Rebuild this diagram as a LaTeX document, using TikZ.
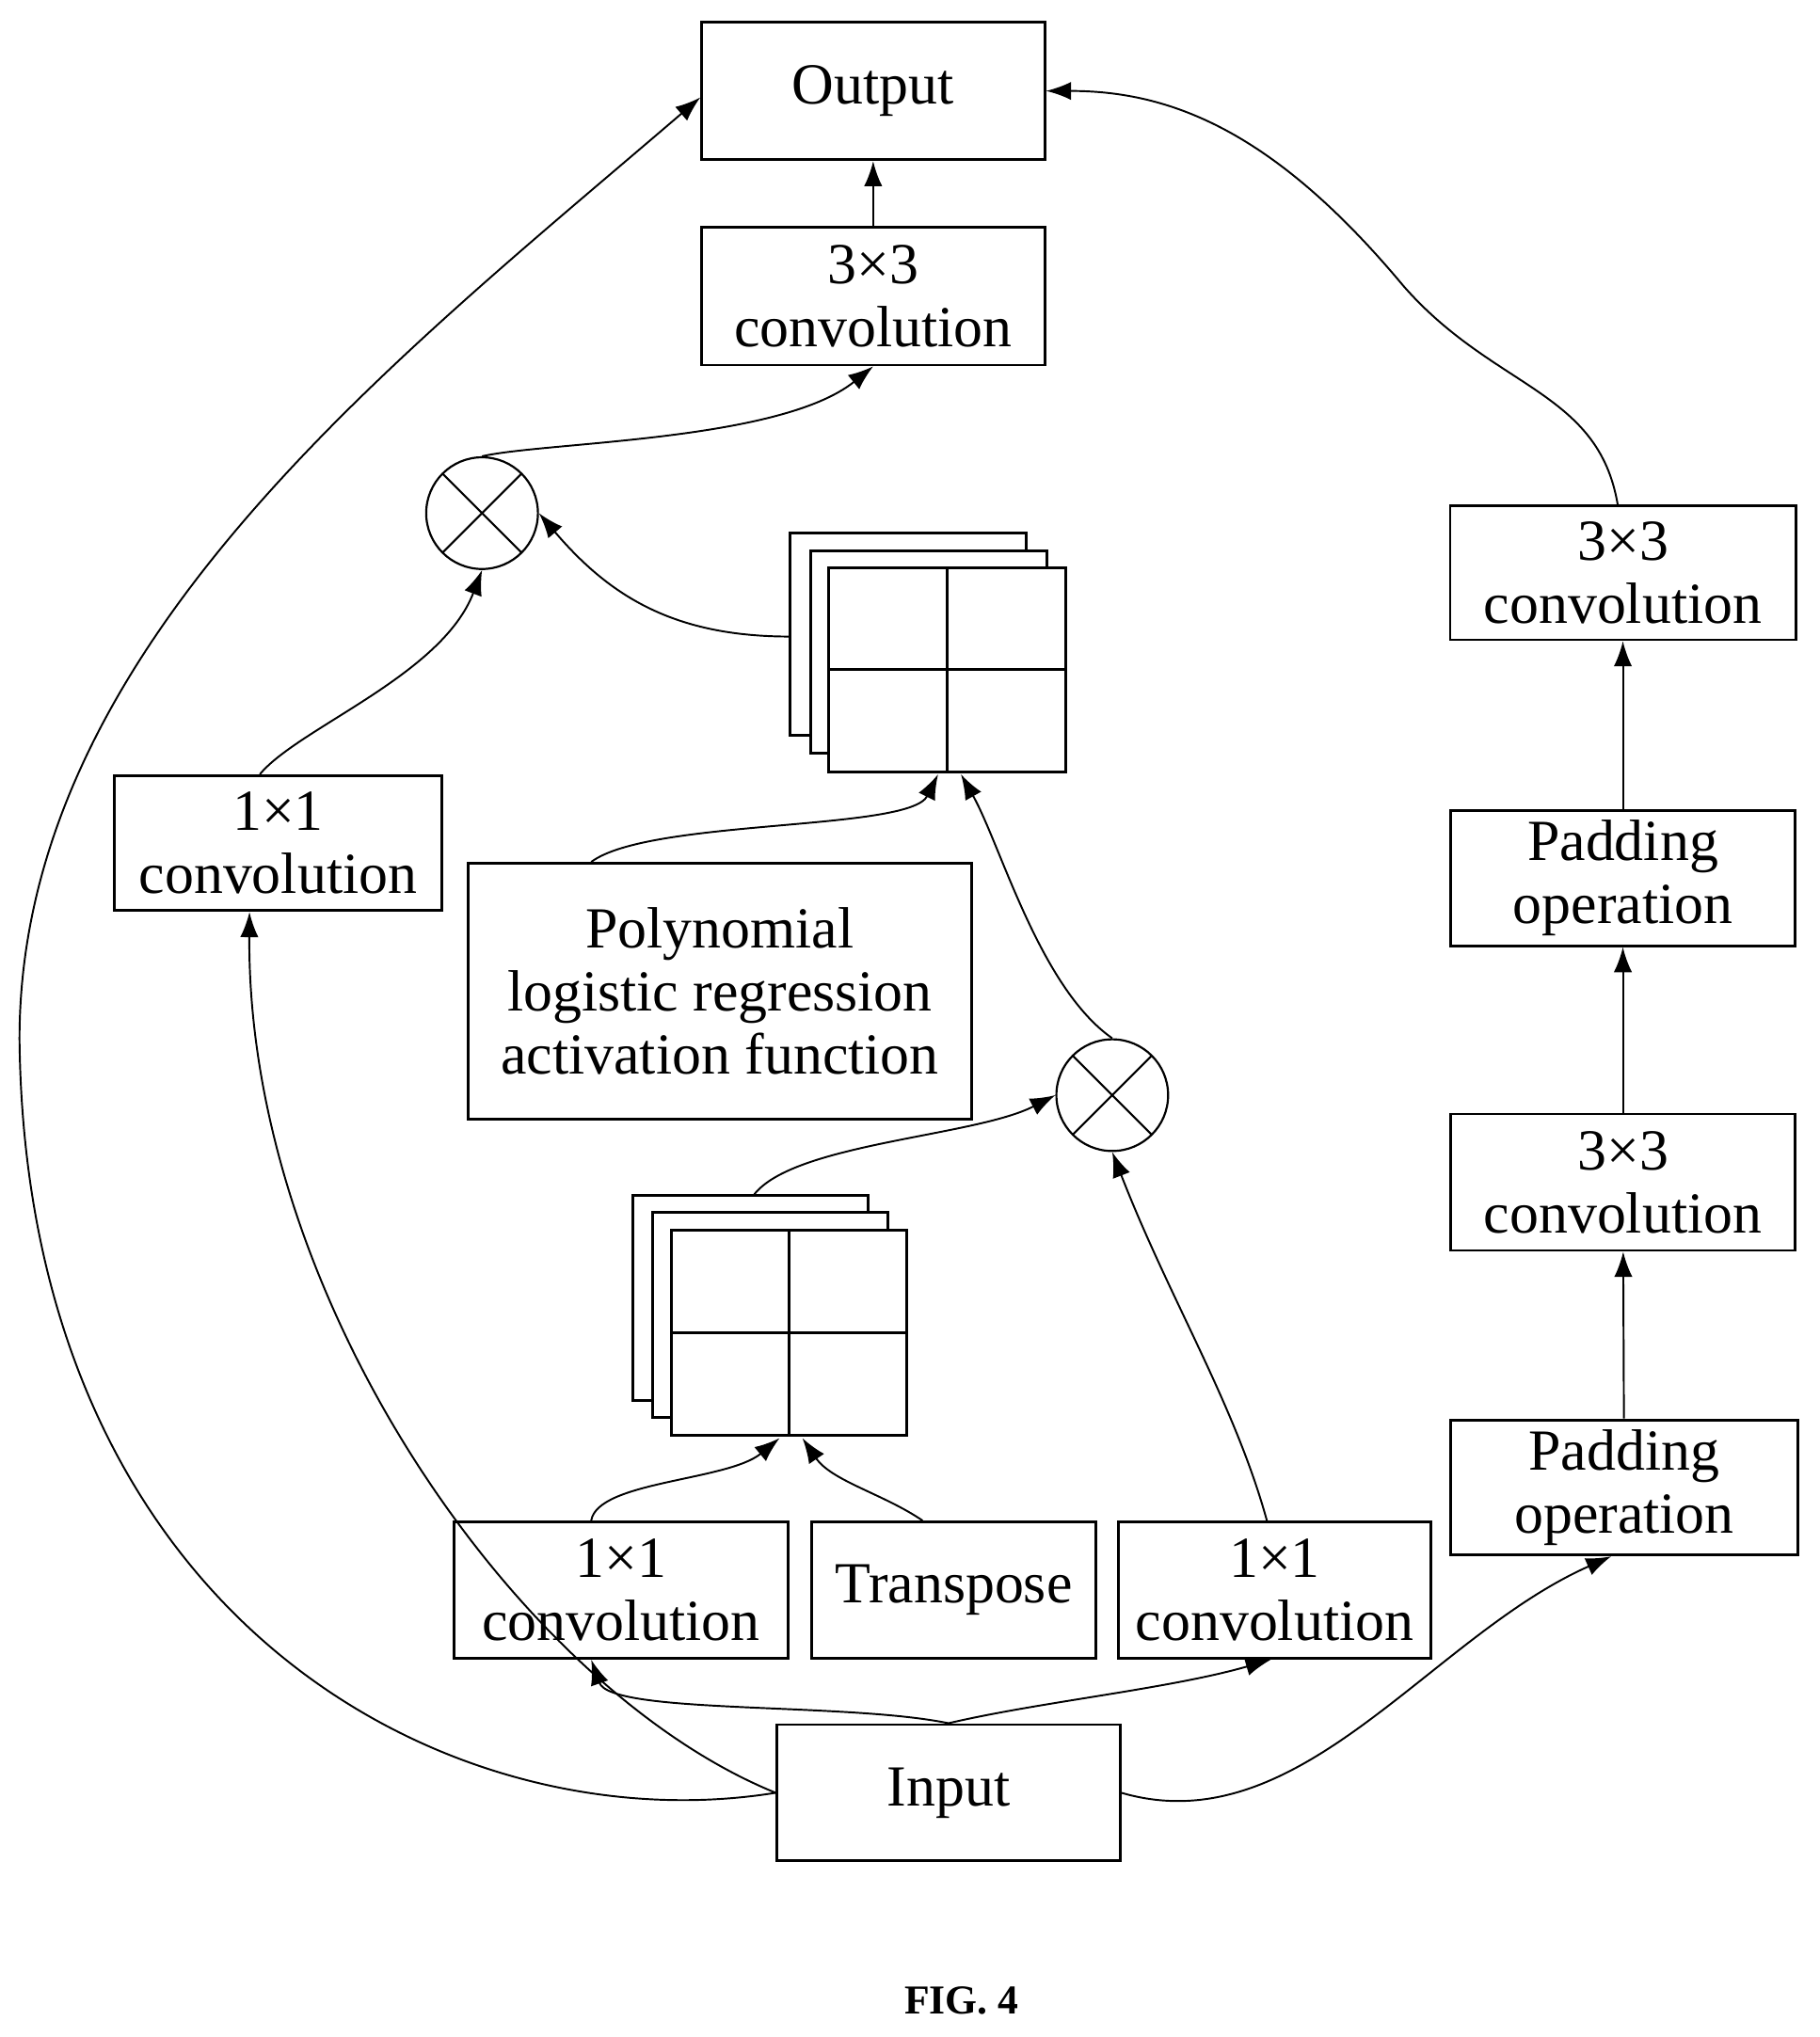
\documentclass[tikz,border=0pt]{standalone}
\usepackage{fontspec}
\setmainfont{Liberation Serif}
\usetikzlibrary{arrows.meta}
\begin{document}
\begin{tikzpicture}[x=0.02cm,y=-0.02cm,
 box/.style={draw,line width=1.2pt,align=center,inner sep=0pt,font=\fontsize{25.5}{27.5}\selectfont},
 arr/.style={line width=0.8pt,-{Latex[length=11pt,width=8pt]}},
 ot/.style={draw,line width=0.9pt,circle,minimum size=1.72cm,inner sep=0pt,
   path picture={\draw[line width=0.9pt] (path picture bounding box.south west)--(path picture bounding box.north east) (path picture bounding box.north west)--(path picture bounding box.south east);}}]
\useasboundingbox (0,0) rectangle (1400,1568);
\node[box,minimum width=5.28cm,minimum height=2.12cm] (out) at (672,70) {Output};
\node[box,minimum width=5.28cm,minimum height=2.12cm] (c3a) at (672,228) {3×3\\convolution};
\node[box,minimum width=5.04cm,minimum height=2.08cm] (c1l) at (214,649) {1×1\\convolution};
\node[box,minimum width=7.74cm,minimum height=3.94cm] (poly) at (554,763) {Polynomial\\logistic regression\\activation function};
\node[box,minimum width=5.14cm,minimum height=2.1cm] (c1b) at (478,1224) {1×1\\convolution};
\node[box,minimum width=4.38cm,minimum height=2.1cm] (tr) at (734,1224) {Transpose};
\node[box,minimum width=4.82cm,minimum height=2.1cm] (c1r) at (981,1224) {1×1\\convolution};
\node[box,minimum width=5.28cm,minimum height=2.1cm] (in) at (730,1380) {Input};
\node[box,minimum width=5.32cm,minimum height=2.06cm] (r1) at (1249,441) {3×3\\convolution};
\node[box,minimum width=5.3cm,minimum height=2.08cm] (r2) at (1249,676) {Padding\\operation};
\node[box,minimum width=5.3cm,minimum height=2.1cm] (r3) at (1249,910) {3×3\\convolution};
\node[box,minimum width=5.34cm,minimum height=2.08cm] (r4) at (1250,1145) {Padding\\operation};
\node[font=\bfseries\fontsize{18}{20}\selectfont] (fig) at (740,1540) {FIG. 4};
\node[ot] (o1) at (371,395) {};
\node[ot] (o2) at (856,843) {};
% stacks
\begin{scope}[line width=1.2pt]
\filldraw[fill=white] (608,410) rectangle (790,566);
\filldraw[fill=white] (624,424) rectangle (806,580);
\filldraw[fill=white] (638,437) rectangle (820,594);
\draw (729,437)--(729,594) (638,515)--(820,515);
\filldraw[fill=white] (487,920) rectangle (668,1078);
\filldraw[fill=white] (502,933) rectangle (683,1091);
\filldraw[fill=white] (517,947) rectangle (698,1105);
\draw (607,947)--(607,1105) (517,1026)--(698,1026);
\end{scope}
\coordinate (s1b) at (729,596);
\coordinate (s1l) at (608,490);
\coordinate (s2t) at (580,920);
\coordinate (s2b) at (607,1107);
% connectors
\draw[arr] (in.west) .. controls (350,1420) and (20,1250) .. (15,800) .. controls (15,500) and (300,280) .. (out.south west|-0,75);
\draw[arr] (in.west) .. controls (400,1300) and (190,1000) .. (c1l.south-|192,0);
\draw[arr] (in.north) .. controls (650,1310) and (470,1320) .. (c1b.south-|455,0);
\draw[arr] (in.north) .. controls (800,1310) and (900,1300) .. (c1r.south-|978,0);
\draw[arr] (in.east) .. controls (1000,1420) and (1100,1260) .. (r4.south-|1240,0);
\draw[arr] (r4)--(r3); \draw[arr] (r3)--(r2); \draw[arr] (r2)--(r1);
\draw[arr] (r1.north-|1245,0) .. controls (1230,300) and (1150,300) .. (1080,220) .. controls (980,100) and (900,70) .. (out.east);
\draw[arr] (c3a)--(out);
\draw[arr] (o1.north) .. controls (420,340) and (600,340) .. (c3a.south);
\draw[arr] (c1l.north-|200,0) .. controls (230,560) and (340,520) .. (o1.south);
\draw[arr] (s1l) .. controls (520,490) and (470,460) .. (o1.east);
\draw[arr] (poly.north-|455,0) .. controls (500,630) and (700,640) .. ([xshift=-4]s1b);
\draw[arr] (o2.north) .. controls (800,760) and (770,650) .. ([xshift=6]s1b);
\draw[arr] (s2t) .. controls (610,880) and (750,875) .. (o2.west);
\draw[arr] (c1r.north-|975,0) .. controls (950,1080) and (900,1000) .. (o2.south);
\draw[arr] (c1b.north-|455,0) .. controls (460,1140) and (560,1140) .. ([xshift=-4]s2b);
\draw[arr] (tr.north-|710,0) .. controls (680,1150) and (640,1140) .. ([xshift=6]s2b);
\end{tikzpicture}
\end{document}
